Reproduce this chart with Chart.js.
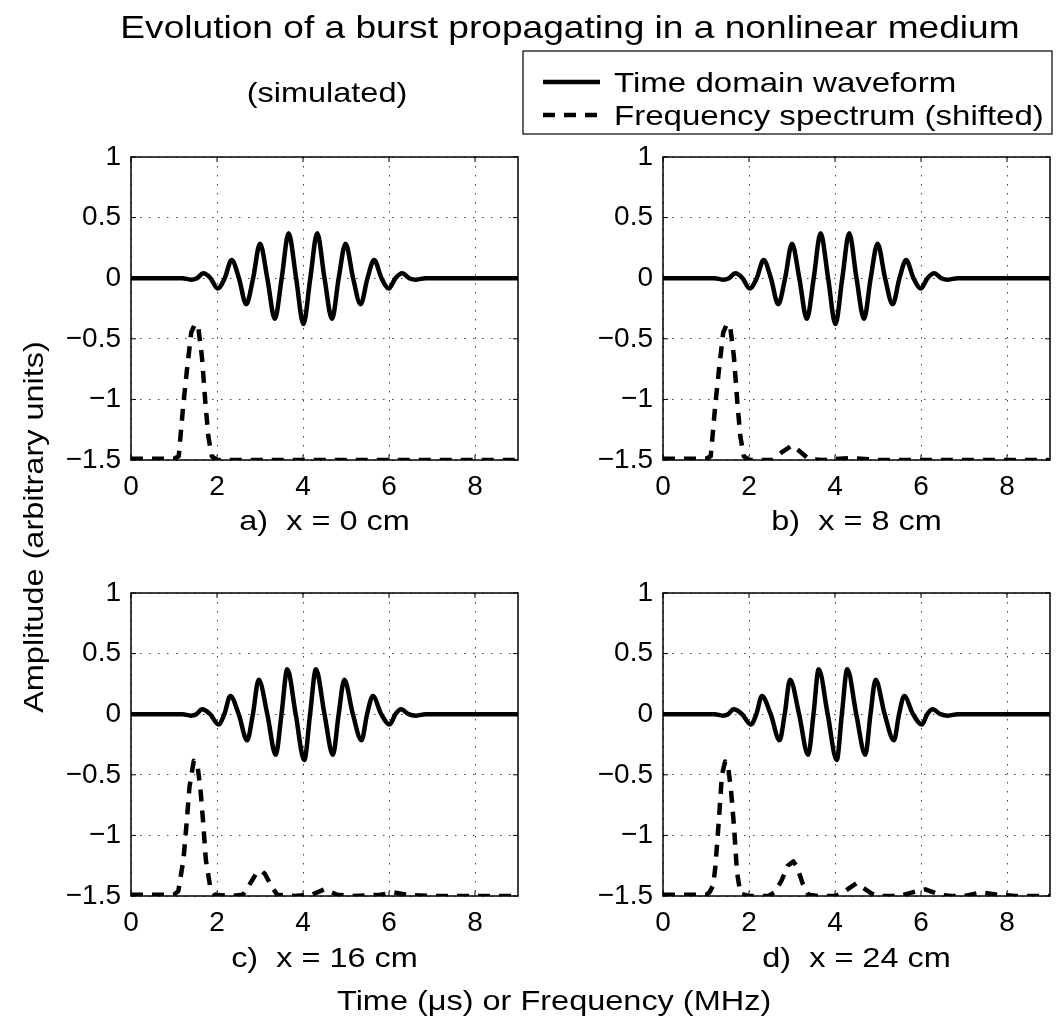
<!DOCTYPE html>
<html>
<head>
<meta charset="utf-8">
<script src="https://cdn.jsdelivr.net/npm/chart.js@4.4.1/dist/chart.umd.min.js"></script>
<style>
  html, body { margin: 0; padding: 0; background: #fff; overflow: hidden; }
  #page { position: relative; width: 1057px; height: 1021px; }
  canvas { position: absolute; }
  #overlay { position: absolute; left: 0; top: 0; z-index: 2; }
  #overlay text { font-family: "Liberation Sans", Arial, Helvetica, sans-serif; fill: #000; }
</style>
</head>
<body>
<div id="page">
  <canvas id="panelA" width="503" height="383" style="left:21px; top:127px;"></canvas>
  <canvas id="panelB" width="503" height="383" style="left:553px; top:127px;"></canvas>
  <canvas id="panelC" width="503" height="383" style="left:21px; top:563px;"></canvas>
  <canvas id="panelD" width="503" height="383" style="left:553px; top:563px;"></canvas>
  <svg id="overlay" width="1057" height="1021">
    <text transform="translate(570,38) scale(1.16,1)" text-anchor="middle" font-size="32">Evolution of a burst propagating in a nonlinear medium</text>
    <text transform="translate(327,102) scale(1.16,1)" text-anchor="middle" font-size="28">(simulated)</text>
    <rect x="523" y="51" width="529" height="83" fill="#fff" stroke="#000" stroke-width="1.2"></rect>
    <line x1="543" y1="82" x2="600" y2="82" stroke="#000" stroke-width="4.5"></line>
    <line x1="543" y1="115" x2="600" y2="115" stroke="#000" stroke-width="4.5" stroke-dasharray="12 9"></line>
    <text transform="translate(614,92) scale(1.16,1)" font-size="28.5">Time domain waveform</text>
    <text transform="translate(614,125) scale(1.16,1)" font-size="28.5">Frequency spectrum (shifted)</text>
    <text transform="translate(324.5,530) scale(1.16,1)" text-anchor="middle" font-size="28" xml:space="preserve">a)  x = 0 cm</text>
    <text transform="translate(856.5,530) scale(1.16,1)" text-anchor="middle" font-size="28" xml:space="preserve">b)  x = 8 cm</text>
    <text transform="translate(324.5,967) scale(1.16,1)" text-anchor="middle" font-size="28" xml:space="preserve">c)  x = 16 cm</text>
    <text transform="translate(856.5,967) scale(1.16,1)" text-anchor="middle" font-size="28" xml:space="preserve">d)  x = 24 cm</text>
    <text transform="translate(337,1010) scale(1.16,1)" font-size="28">Time (μs) or Frequency (MHz)</text>
    <text transform="translate(43,527) rotate(-90) scale(1.16,1)" text-anchor="middle" font-size="28">Amplitude (arbitrary units)</text>
  </svg>
</div>
<script>
// time domain burst (peaks, troughs and zero crossings)
var waveY = [0, 0, -0.012, 0, 0.04, 0, -0.085, 0, 0.15, 0, -0.215, 0, 0.285, 0, -0.335, 0, 0.37, 0, -0.378, 0,
             0.37, 0, -0.335, 0, 0.285, 0, -0.215, 0, 0.15, 0, -0.085, 0, 0.04, 0, -0.012, 0, 0];
var waveXab = [0, 1.2, 1.39, 1.535, 1.68, 1.85, 2.015, 2.18, 2.34, 2.51, 2.68, 2.84, 3.0, 3.17, 3.345, 3.505, 3.665, 3.84, 4.01, 4.17,
               4.33, 4.5, 4.675, 4.83, 4.99, 5.165, 5.34, 5.5, 5.655, 5.825, 5.995, 6.15, 6.31, 6.47, 6.63, 6.85, 9];
var waveXc = [0, 1.2, 1.39, 1.52, 1.65, 1.84, 2.035, 2.17, 2.31, 2.505, 2.70, 2.835, 2.97, 3.17, 3.365, 3.50, 3.635, 3.83, 4.03, 4.165,
              4.30, 4.50, 4.695, 4.83, 4.96, 5.16, 5.36, 5.49, 5.625, 5.82, 6.015, 6.15, 6.28, 6.455, 6.63, 6.85, 9];
var waveXd = [0, 1.2, 1.39, 1.515, 1.64, 1.84, 2.045, 2.17, 2.30, 2.505, 2.71, 2.83, 2.955, 3.165, 3.375, 3.5, 3.62, 3.83, 4.04, 4.16,
              4.285, 4.495, 4.705, 4.825, 4.945, 5.155, 5.37, 5.49, 5.61, 5.815, 6.02, 6.145, 6.27, 6.45, 6.63, 6.85, 9];

// spectra (shifted down by 1.5)
var specXa = [0, 1.0, 1.11, 1.22, 1.30, 1.40, 1.49, 1.57, 1.65, 1.73, 1.80, 1.88, 2.0, 9];
var specYa = [-1.49, -1.49, -1.47, -1.03, -0.76, -0.45, -0.375, -0.42, -0.65, -1.03, -1.31, -1.47, -1.5, -1.5];

var specXb = [0, 1.0, 1.11, 1.22, 1.30, 1.40, 1.49, 1.57, 1.65, 1.73, 1.80, 1.88, 2.0, 2.55, 2.75, 3.0, 3.15, 3.38, 3.7, 4.1, 4.35, 4.6, 5.0, 9];
var specYb = [-1.49, -1.49, -1.47, -1.03, -0.76, -0.45, -0.375, -0.42, -0.65, -1.03, -1.31, -1.47, -1.5, -1.5, -1.44, -1.38, -1.42, -1.49, -1.5, -1.49, -1.485, -1.49, -1.5, -1.5];

var specXc = [0, 1.0, 1.1, 1.22, 1.30, 1.36, 1.46, 1.55, 1.62, 1.68, 1.74, 1.84, 1.95, 2.3, 2.6, 2.75, 2.9, 3.03, 3.12, 3.25, 3.4,
              3.8, 4.2, 4.5, 4.8, 5.2, 5.8, 6.1, 6.4, 7.0, 9];
var specYc = [-1.49, -1.49, -1.46, -1.2, -0.87, -0.6, -0.385, -0.43, -0.64, -0.9, -1.2, -1.42, -1.49, -1.5, -1.49, -1.41, -1.32, -1.29, -1.32, -1.41, -1.49,
              -1.5, -1.49, -1.445, -1.49, -1.5, -1.49, -1.47, -1.49, -1.5, -1.5];

var specXd = [0, 1.0, 1.08, 1.17, 1.22, 1.30, 1.37, 1.445, 1.52, 1.58, 1.65, 1.72, 1.80, 2.0, 2.45, 2.6, 2.76, 2.9, 3.03, 3.12, 3.25, 3.38, 3.6,
              4.0, 4.15, 4.5, 4.85, 5.0, 5.5, 5.8, 6.1, 6.45, 6.7, 7.0, 7.4, 7.8, 8.2, 9];
var specYd = [-1.49, -1.49, -1.47, -1.41, -1.25, -0.87, -0.5, -0.39, -0.45, -0.62, -0.92, -1.3, -1.48, -1.5, -1.5, -1.47, -1.37, -1.25, -1.215, -1.26, -1.4, -1.49, -1.5,
              -1.5, -1.48, -1.395, -1.48, -1.5, -1.5, -1.47, -1.445, -1.49, -1.5, -1.5, -1.47, -1.49, -1.5, -1.5];

var xTickStep = 2;
var yTickStep = 0.5;

var fontFamily = '"Liberation Sans", Arial, Helvetica, sans-serif';

function toPoints(xs, ys) {
  return xs.map(function(x, i) { return {x: x, y: ys[i]}; });
}

// box around the plot area plus small inward ticks, like matlab axes
var frame = {
  id: 'frame',
  afterDraw: function(chart) {
    var ctx = chart.ctx, a = chart.chartArea;
    var sx = chart.scales.x, sy = chart.scales.y;
    ctx.save();
    ctx.strokeStyle = '#000';
    ctx.lineWidth = 1.5;
    ctx.strokeRect(a.left, a.top, a.right - a.left, a.bottom - a.top);
    ctx.lineWidth = 1;
    ctx.beginPath();
    sx.ticks.forEach(function(t) {
      var px = sx.getPixelForValue(t.value);
      ctx.moveTo(px, a.bottom); ctx.lineTo(px, a.bottom - 5);
      ctx.moveTo(px, a.top); ctx.lineTo(px, a.top + 5);
    });
    sy.ticks.forEach(function(t) {
      var py = sy.getPixelForValue(t.value);
      ctx.moveTo(a.left, py); ctx.lineTo(a.left + 5, py);
      ctx.moveTo(a.right, py); ctx.lineTo(a.right - 5, py);
    });
    ctx.stroke();
    ctx.restore();
  }
};

function makePanel(id, waveX, specX, specY) {
  return new Chart(document.getElementById(id), {
    type: 'line',
    data: {
      datasets: [{
        label: 'Time domain waveform',
        data: toPoints(waveX, waveY),
        borderColor: '#000',
        borderWidth: 4.5,
        borderJoinStyle: 'round',
        pointRadius: 0,
        cubicInterpolationMode: 'monotone',
        fill: false
      }, {
        label: 'Frequency spectrum (shifted)',
        data: toPoints(specX, specY),
        borderColor: '#000',
        borderWidth: 4.5,
        borderDash: [12, 9],
        borderJoinStyle: 'round',
        pointRadius: 0,
        tension: 0,
        fill: false
      }]
    },
    options: {
      responsive: false,
      animation: false,
      events: [],
      layout: { padding: { top: 30, right: 6, bottom: 0, left: 0 } },
      plugins: {
        legend: { display: false },
        tooltip: { enabled: false }
      },
      scales: {
        x: {
          type: 'linear',
          min: 0,
          max: 9,
          afterFit: function(s) { s.height = 50; },
          ticks: {
            stepSize: xTickStep,
            includeBounds: false,
            padding: 10,
            color: '#000',
            font: { family: fontFamily, size: 28 }
          },
          grid: { color: '#444', lineWidth: 1, drawTicks: false },
          border: { display: false, dash: [1.5, 7.5] }
        },
        y: {
          min: -1.5,
          max: 1,
          afterFit: function(s) { s.width = 110; },
          ticks: {
            stepSize: yTickStep,
            padding: 10,
            color: '#000',
            font: { family: fontFamily, size: 28 },
            callback: function(v) { return String(Number(v.toFixed(1))).replace('-', '\u2212'); }
          },
          grid: { color: '#444', lineWidth: 1, drawTicks: false },
          border: { display: false, dash: [1.5, 7.5] }
        }
      }
    },
    plugins: [frame]
  });
}

makePanel('panelA', waveXab, specXa, specYa);
makePanel('panelB', waveXab, specXb, specYb);
makePanel('panelC', waveXc, specXc, specYc);
makePanel('panelD', waveXd, specXd, specYd);
</script>
</body>
</html>
